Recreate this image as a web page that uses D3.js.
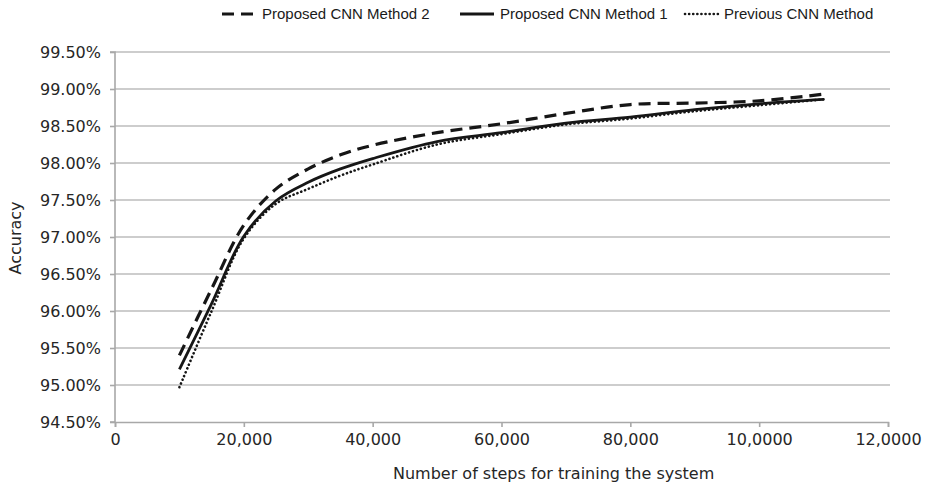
<!DOCTYPE html>
<html>
<head>
<meta charset="utf-8">
<script src="https://cdn.jsdelivr.net/npm/d3@7"></script>
<style>
  html, body { margin: 0; padding: 0; background: #fff; }
  svg { display: block; }
</style>
</head>
<body>
<svg id="chart" width="926" height="486"></svg>
<script>
// Training steps at which accuracy was recorded
const steps = [10000, 15000, 20000, 25000, 30000, 35000, 40000, 50000, 60000, 70000, 80000, 90000, 100000, 110000];

// Accuracy (%) for each method
const method2  = [95.40, 96.30, 97.16, 97.65, 97.92, 98.11, 98.24, 98.41, 98.53, 98.67, 98.79, 98.81, 98.84, 98.93];
const method1  = [95.21, 96.10, 97.01, 97.49, 97.74, 97.92, 98.06, 98.29, 98.41, 98.54, 98.62, 98.72, 98.80, 98.86];
const previous = [94.97, 96.00, 96.98, 97.45, 97.65, 97.83, 97.98, 98.25, 98.39, 98.52, 98.60, 98.70, 98.78, 98.86];

const seriesNames = ["Proposed CNN Method 2", "Proposed CNN Method 1", "Previous CNN Method"];

// Axis ticks
const yTickValues = [94.5, 95.0, 95.5, 96.0, 96.5, 97.0, 97.5, 98.0, 98.5, 99.0, 99.5];
const xTickValues = [0, 20000, 40000, 60000, 80000, 100000, 120000];
const xTickLabels = ["0", "20,000", "40,000", "60,000", "80,000", "10,0000", "12,0000"];

const xTitle = "Number of steps for training the system";
const yTitle = "Accuracy";

// ---- drawing ----
const svg = d3.select("#chart");
const plot = { left: 115, right: 888, top: 52, bottom: 422 };
const ink = "#161616";
const tickFont = "'DejaVu Sans', sans-serif";

const x = d3.scaleLinear().domain([0, 120000]).range([plot.left, plot.right]);
const y = d3.scaleLinear().domain([94.5, 99.5]).range([plot.bottom, plot.top]);

// horizontal gridlines
svg.append("g")
  .selectAll("line")
  .data(yTickValues.slice(1))
  .join("line")
  .attr("x1", plot.left).attr("x2", plot.right + 2)
  .attr("y1", d => y(d)).attr("y2", d => y(d))
  .attr("stroke", "#bcbcbc")
  .attr("stroke-width", 1.6);

// y axis
const yAxis = svg.append("g")
  .attr("transform", `translate(${plot.left},0)`)
  .call(d3.axisLeft(y)
    .tickValues(yTickValues)
    .tickFormat(d => d.toFixed(2) + "%")
    .tickSize(5)
    .tickPadding(9));

// x axis
const xAxis = svg.append("g")
  .attr("transform", `translate(0,${plot.bottom})`)
  .call(d3.axisBottom(x)
    .tickValues(xTickValues)
    .tickFormat((d, i) => xTickLabels[i])
    .tickSize(5)
    .tickPadding(7));

[yAxis, xAxis].forEach(g => {
  g.select(".domain").attr("stroke", "#a8a8a8").attr("stroke-width", 1.6);
  g.selectAll(".tick line").attr("stroke", "#a8a8a8").attr("stroke-width", 1.6);
  g.selectAll(".tick text")
    .attr("fill", "#262626")
    .style("font-family", tickFont)
    .style("font-size", "16px");
});
yAxis.select(".domain").attr("d", `M-5,${plot.bottom}H0V${plot.top}H-5`);

// axis titles
svg.append("text")
  .attr("x", 393).attr("y", 473)
  .attr("dy", "0.35em")
  .attr("fill", "#262626")
  .style("font-family", tickFont)
  .style("font-size", "16px")
  .text(xTitle);

svg.append("text")
  .attr("transform", "translate(15,238) rotate(-90)")
  .attr("text-anchor", "middle")
  .attr("dy", "0.35em")
  .attr("fill", "#262626")
  .style("font-family", tickFont)
  .style("font-size", "16px")
  .text(yTitle);

// series lines
const seriesStyles = [
  { values: method2,  width: 3.2, dash: "12,7",  cap: "butt" },
  { values: method1,  width: 2.8, dash: null,    cap: "butt" },
  { values: previous, width: 2.6, dash: "0.1,4", cap: "round" }
];

const line = d3.line()
  .x(d => x(d[0]))
  .y(d => y(d[1]))
  .curve(d3.curveCatmullRom.alpha(0.5));

svg.append("g")
  .selectAll("path")
  .data(seriesStyles.slice().reverse())
  .join("path")
  .attr("d", s => line(steps.map((st, i) => [st, s.values[i]])))
  .attr("fill", "none")
  .attr("stroke", ink)
  .attr("stroke-width", s => s.width)
  .attr("stroke-dasharray", s => s.dash)
  .attr("stroke-linecap", s => s.cap);

// legend
const legendItems = [
  { x0: 222, x1: 255, tx: 262 },
  { x0: 460, x1: 494, tx: 500 },
  { x0: 685, x1: 719, tx: 724 }
];
const legendY = 14;
const legend = svg.append("g");
legendItems.forEach((it, i) => {
  legend.append("line")
    .attr("x1", it.x0).attr("x2", it.x1)
    .attr("y1", legendY).attr("y2", legendY)
    .attr("stroke", ink)
    .attr("stroke-width", seriesStyles[i].width)
    .attr("stroke-dasharray", seriesStyles[i].dash)
    .attr("stroke-linecap", seriesStyles[i].cap);
  legend.append("text")
    .attr("x", it.tx).attr("y", legendY)
    .attr("dy", "0.35em")
    .attr("fill", "#1a1a1a")
    .style("font-family", "'Liberation Sans', Arial, sans-serif")
    .style("font-size", "15px")
    .text(seriesNames[i]);
});
</script>
</body>
</html>
